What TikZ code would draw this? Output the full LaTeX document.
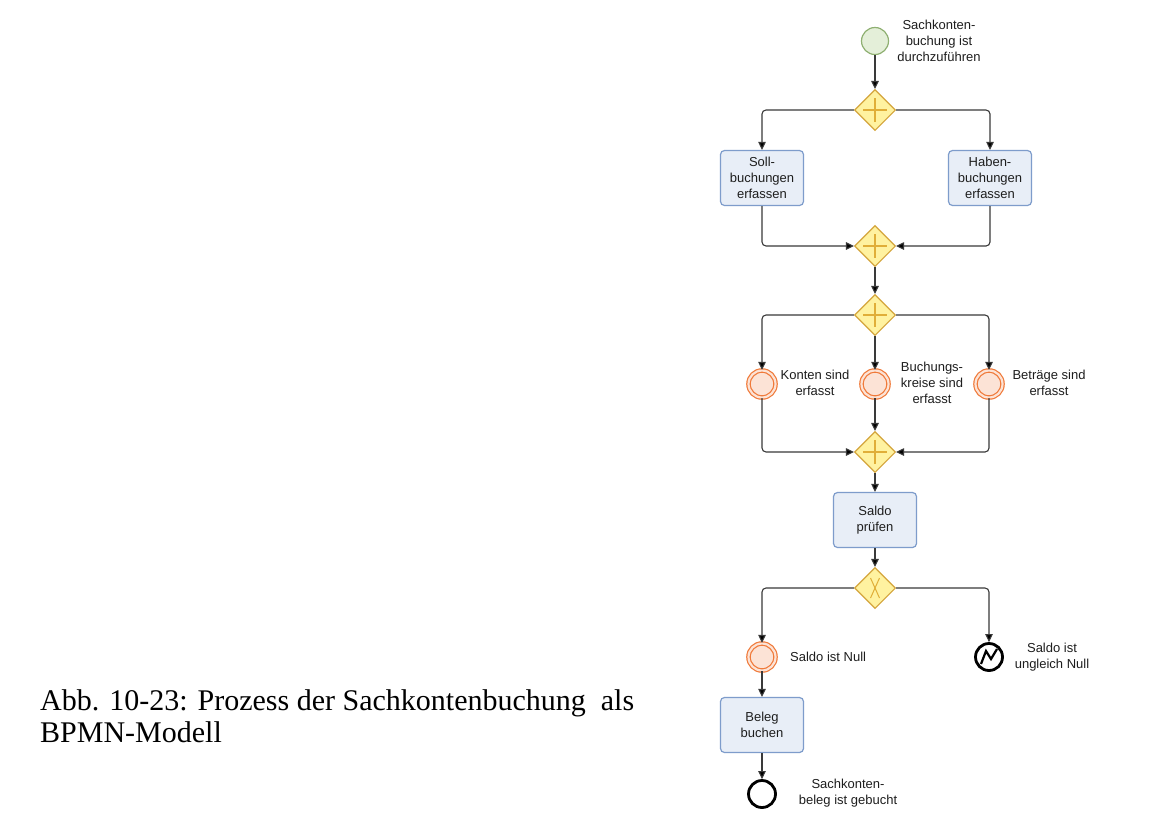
\documentclass[tikz,border=0pt]{standalone}
\usepackage{fontspec}
\setmainfont{Liberation Sans}
\newfontfamily\capfont{Liberation Serif}
\usetikzlibrary{shapes.geometric,arrows.meta}
\definecolor{taskfill}{HTML}{E8EEF7}
\definecolor{taskdraw}{HTML}{7E9CCB}
\definecolor{gwfill}{HTML}{FFF2A0}
\definecolor{gwdraw}{HTML}{D4A53C}
\definecolor{gwsym}{HTML}{E0AE38}
\definecolor{evfill}{HTML}{FCE3D6}
\definecolor{evdraw}{HTML}{F07A3A}
\definecolor{stfill}{HTML}{E4EFD9}
\definecolor{stdraw}{HTML}{8FB072}
\definecolor{linec}{HTML}{3A3A3A}
\definecolor{txt}{HTML}{1E1E1E}
\newcommand\lbl{\fontsize{13}{16}\selectfont}
\tikzset{
  task/.style={draw=taskdraw, fill=taskfill, rounded corners=4pt, minimum width=83pt, minimum height=55pt, line width=1.2pt, align=center, font=\lbl, text=txt, inner sep=0pt},
  gw/.style={diamond, draw=gwdraw, fill=gwfill, minimum width=41pt, minimum height=41pt, inner sep=0pt, line width=1.1pt},
  gwline/.style={draw=gwsym, line width=1.2pt},
  inter/.style={circle, draw=evdraw, fill=evfill, minimum size=27pt, inner sep=0pt, line width=1.2pt, double=evfill, double distance=2.2pt},
  startev/.style={circle, draw=stdraw, fill=stfill, minimum size=27pt, inner sep=0pt, line width=1.2pt},
  endev/.style={circle, draw=black, fill=white, minimum size=27pt, inner sep=0pt, line width=2.8pt},
  flow/.style={draw=linec, line width=1.1pt, -{Triangle[length=8pt,width=7.5pt,fill=black]}, rounded corners=4pt},
  lab/.style={font=\lbl, text=txt, align=center, inner sep=0pt},
  captext/.style={font=\capfont\fontsize{30}{32}\selectfont, anchor=base west, inner sep=0pt}
}
\begin{document}
\begin{tikzpicture}[x=1pt,y=-1pt]
\fill[white] (0,0) rectangle (1162,823);
\useasboundingbox (0,0) rectangle (1162,823);
% nodes
\node[startev] (start) at (875,41) {};
\node[gw] (g1) at (875,110) {};
\node[task] (soll) at (762,178) {Soll-\\buchungen\\erfassen};
\node[task] (haben) at (990,178) {Haben-\\buchungen\\erfassen};
\node[gw] (g2) at (875,246) {};
\node[gw] (g3) at (875,315) {};
\node[inter] (e1) at (762,384) {};
\node[inter] (e2) at (875,384) {};
\node[inter] (e3) at (989,384) {};
\node[gw] (g4) at (875,452) {};
\node[task] (saldo) at (875,520) {Saldo\\prüfen};
\node[gw] (x1) at (875,588) {};
\node[inter] (null) at (762,657) {};
\node[endev] (err) at (989,657) {};
\node[task] (beleg) at (762,725) {Beleg\\buchen};
\node[endev] (end) at (762,794) {};
% gateway symbols
\foreach \g in {g1,g2,g3,g4}{
  \draw[gwline] (\g.center) ++(-12,0) -- ++(24,0);
  \draw[gwline] (\g.center) ++(0,-12) -- ++(0,24);
}
\draw[gwline, line width=1pt] (x1.center) ++(-4.5,-10) -- ++(9,20);
\draw[gwline, line width=1pt] (x1.center) ++(4.5,-10) -- ++(-9,20);
% error symbol
\draw[line width=2.2pt, line join=miter] (err.center) ++(-8,7) -- ++(5,-13) -- ++(5,8) -- ++(6,-10);
% labels
\node[lab] (lstart) at (939,41) {Sachkonten-\\buchung ist\\durchzuführen};
\node[lab] (l1) at (815,383) {Konten sind\\erfasst};
\node[lab] (l2) at (932,383) {Buchungs-\\kreise sind\\erfasst};
\node[lab] (l3) at (1049,383) {Beträge sind\\erfasst};
\node[lab, anchor=west] (lnull) at (790,657) {Saldo ist Null};
\node[lab] (lerr) at (1052,657) {Saldo ist\\ungleich Null};
\node[lab] (lend) at (848,793) {Sachkonten-\\beleg ist gebucht};
% flows
\draw[flow] (start) -- (g1);
\draw[flow] (g1.west) -| (soll.north);
\draw[flow] (g1.east) -| (haben.north);
\draw[flow] (soll.south) |- (g2.west);
\draw[flow] (haben.south) |- (g2.east);
\draw[flow] (g2) -- (g3);
\draw[flow] (g3.west) -| (e1.north);
\draw[flow] (g3) -- (e2);
\draw[flow] (g3.east) -| (e3.north);
\draw[flow] (e1.south) |- (g4.west);
\draw[flow] (e2) -- (g4);
\draw[flow] (e3.south) |- (g4.east);
\draw[flow] (g4) -- (saldo);
\draw[flow] (saldo) -- (x1);
\draw[flow] (x1.west) -| (null.north);
\draw[flow] (x1.east) -| (err.north);
\draw[flow] (null) -- (beleg);
\draw[flow] (beleg) -- (end);
% caption
\node[captext] (c1) at (40,710) {Abb. 10-23: Prozess der Sachkontenbuchung\ \ als};
\node[captext] (c2) at (40,742) {BPMN-Modell};
\end{tikzpicture}
\end{document}
